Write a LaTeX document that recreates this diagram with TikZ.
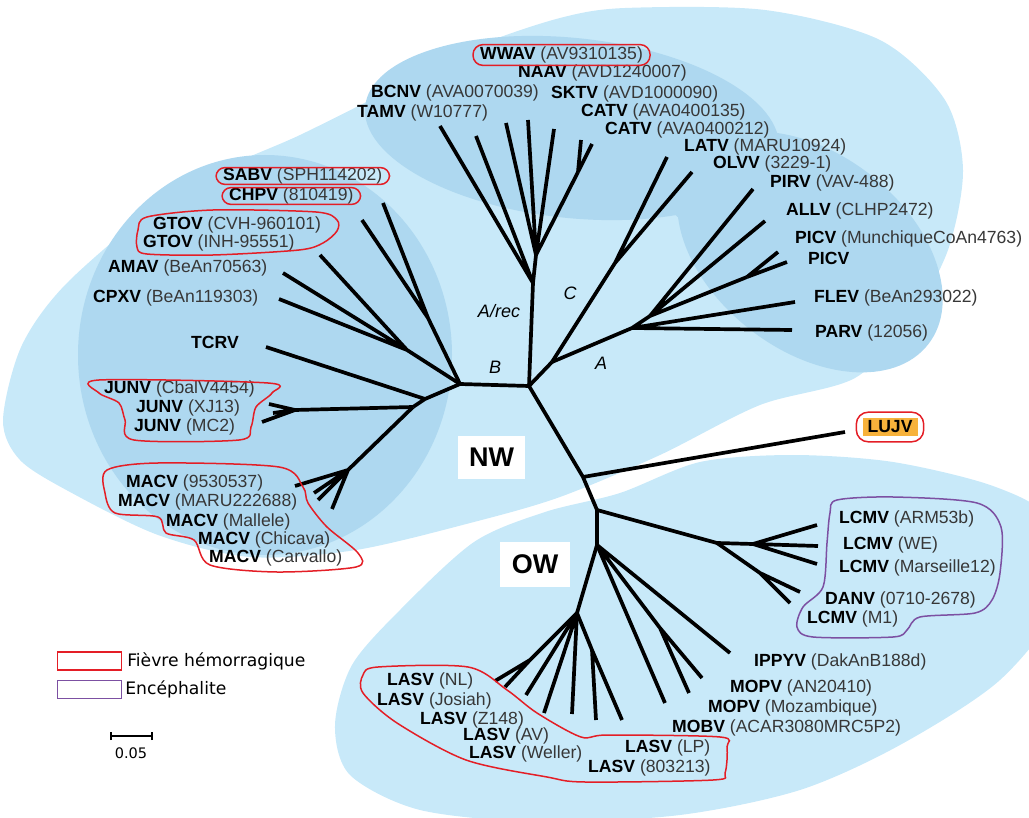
\documentclass[tikz,border=0pt]{standalone}
\usepackage{fontspec}
\setmainfont{Liberation Sans}
\newfontfamily\legendfont{DejaVu Sans}
\usetikzlibrary{positioning,fit}

\definecolor{lightblue}{RGB}{200,233,249}
\definecolor{darkblue}{RGB}{174,216,240}
\definecolor{idgray}{RGB}{55,55,55}
\definecolor{feverred}{RGB}{228,30,38}
\definecolor{encpurple}{RGB}{124,80,162}
\definecolor{lujvorange}{RGB}{247,178,59}

% name in bold, strain in grey
\newcommand{\virus}[2]{\textbf{#1} {\color{idgray}(#2)}}

\tikzset{
  branch/.style={line width=3.7pt, line join=round},
  virlabel/.style={anchor=west, inner sep=0pt, font=\fontsize{17.6}{19}\selectfont},
  fever/.style={draw=feverred, line width=1.5pt},
  enceph/.style={draw=encpurple, line width=1.5pt},
  clade/.style={font=\fontsize{18}{20}\selectfont\itshape},
  world/.style={fill=white, inner sep=0pt, font=\fontsize{27}{30}\selectfont\bfseries},
  legtext/.style={inner sep=0pt, font=\legendfont\fontsize{17.2}{19}\selectfont}
}

\begin{document}
\begin{tikzpicture}[x=1pt,y=-1pt]
    \useasboundingbox (0,0) rectangle (1029,818);

    % New World area
    \fill[lightblue] plot[smooth cycle] coordinates {(3,420) (22,345) (70,280) (180,190)
      (300,135) (400,85) (480,45) (560,18) (625,8) (765,10) (880,40) (945,100) (963,170)
      (948,250) (910,320) (855,378) (760,405) (660,455) (560,497) (474,522) (356,550)
      (250,557) (158,535) (70,492) (20,460)};

    % Old World area
    \fill[lightblue] plot[smooth cycle] coordinates {(620,493) (700,462) (793,455)
      (893,462) (993,486) (1050,520) (1060,600) (1000,680) (900,745) (800,790) (680,815)
      (540,822) (420,810) (350,775) (335,725) (352,665) (400,610) (474,542) (545,512)};

    % Clades B, A/rec, C and A
    \fill[darkblue] (265,355) ellipse [x radius=187, y radius=200];
    \fill[darkblue, rotate around={-6:(572,128)}] (572,128) ellipse [x radius=208, y radius=90];
    \fill[darkblue, rotate around={-45:(708,170)}] (708,170) ellipse [x radius=106, y radius=55];
    \fill[darkblue, rotate around={-38:(810,252)}] (810,252) ellipse [x radius=150, y radius=98];

    % Inner nodes of the tree
    \coordinate (cen) at (529,386);
    \coordinate (bnode) at (460,384);
    \coordinate (recstem) at (533,283);
    \coordinate (rec2) at (536,255);
    \coordinate (rec3) at (578,172);
    \coordinate (acnode) at (552,362);
    \coordinate (cnode) at (615,263);
    \coordinate (anode) at (632,328);
    \coordinate (anode2) at (650,316);
    \coordinate (picnode) at (747,277);
    \coordinate (lujnode) at (583,477);
    \coordinate (ownode) at (597,510);
    \coordinate (ownode2) at (597,545);
    \coordinate (lcmnode) at (717,543);
    \coordinate (lcmnode2) at (753,544);
    \coordinate (dannode) at (760,573);
    \coordinate (mopnode) at (660,628);
    \coordinate (lasnode) at (577,613);
    \coordinate (lasnode1) at (530,660);
    \coordinate (lasnode2) at (592,650);
    \coordinate (bnode1) at (428,318);
    \coordinate (bnode2) at (407,350);
    \coordinate (tcrnode) at (425,399);
    \coordinate (jmnode) at (413,407);
    \coordinate (junnode) at (295,410);
    \coordinate (macnode) at (348,470);

    % Tips
    \coordinate (tamtip) at (440,126);
    \coordinate (rectipA) at (476,136);
    \coordinate (bcntip) at (506,123);
    \coordinate (rectipB) at (528,120);
    \coordinate (skttip) at (554,129);
    \coordinate (cattipA) at (581,140);
    \coordinate (cattipB) at (592,144);
    \coordinate (lattip) at (667,157);
    \coordinate (olvtip) at (692,172);
    \coordinate (pirtip) at (753,189);
    \coordinate (alltip) at (765,221);
    \coordinate (pictipA) at (778,252);
    \coordinate (pictipB) at (787,262);
    \coordinate (flevtip) at (795,302);
    \coordinate (partip) at (792,330);
    \coordinate (lujtip) at (845,432);
    \coordinate (lcmtipA) at (817,525);
    \coordinate (lcmtipB) at (818,546);
    \coordinate (lcmtipC) at (817,564);
    \coordinate (dantip) at (800,592);
    \coordinate (lcmtipD) at (790,603);
    \coordinate (ipptip) at (730,653);
    \coordinate (moptipA) at (702,678);
    \coordinate (moptipB) at (689,693);
    \coordinate (mobtip) at (665,703);
    \coordinate (lastipA) at (495,681);
    \coordinate (lastipB) at (505,687);
    \coordinate (lastipC) at (526,695);
    \coordinate (lastipD) at (544,713);
    \coordinate (lastipE) at (572,714);
    \coordinate (lastipF) at (596,720);
    \coordinate (lastipG) at (622,720);
    \coordinate (sabtip) at (383,203);
    \coordinate (chptip) at (362,220);
    \coordinate (gtotip) at (320,255);
    \coordinate (amatip) at (283,273);
    \coordinate (cpxtip) at (279,299);
    \coordinate (tcrtip) at (266,347);
    \coordinate (juntipA) at (269,404);
    \coordinate (juntipB) at (273,413);
    \coordinate (juntipC) at (262,422);
    \coordinate (mactipA) at (295,486);
    \coordinate (mactipB) at (314,493);
    \coordinate (mactipC) at (318,500);
    \coordinate (mactipD) at (332,509);

    % Backbone
    \draw[branch] (bnode) -- (cen) -- (recstem);
    \draw[branch] (cen) -- (acnode);
    \draw[branch] (cen) -- (lujnode) -- (ownode) -- (ownode2) -- (lasnode);
    \draw[branch] (lujnode) -- (lujtip);

    % A/rec
    \draw[branch] (recstem) -- (tamtip) (recstem) -- (rectipA) (recstem) -- (rec2);
    \draw[branch] (rec2) -- (bcntip) (rec2) -- (rectipB) (rec2) -- (skttip) (rec2) -- (rec3);
    \draw[branch] (rec3) -- (cattipA) (rec3) -- (cattipB);

    % C
    \draw[branch] (acnode) -- (cnode) -- (lattip) (cnode) -- (olvtip);

    % A
    \draw[branch] (acnode) -- (anode) -- (partip) (anode) -- (flevtip) (anode) -- (anode2);
    \draw[branch] (anode2) -- (pirtip) (anode2) -- (alltip) (anode2) -- (picnode);
    \draw[branch] (picnode) -- (pictipA) (picnode) -- (pictipB);

    % B
    \draw[branch] (bnode) -- (bnode1) -- (sabtip) (bnode1) -- (chptip);
    \draw[branch] (bnode) -- (bnode2) -- (gtotip) (bnode2) -- (amatip) (bnode2) -- (cpxtip);
    \draw[branch] (bnode) -- (tcrnode) -- (jmnode) (tcrnode) -- (tcrtip);
    \draw[branch] (jmnode) -- (junnode) -- (juntipA) (junnode) -- (juntipB) (junnode) -- (juntipC);
    \draw[branch] (jmnode) -- (macnode) -- (mactipA) (macnode) -- (mactipB)
      (macnode) -- (mactipC) (macnode) -- (mactipD);

    % Old World
    \draw[branch] (ownode) -- (lcmnode) -- (lcmnode2) -- (lcmtipA) (lcmnode2) -- (lcmtipB)
      (lcmnode2) -- (lcmtipC);
    \draw[branch] (lcmnode) -- (dannode) -- (dantip) (dannode) -- (lcmtipD);
    \draw[branch] (ownode2) -- (ipptip) (ownode2) -- (mopnode) -- (moptipA) (mopnode) -- (moptipB)
      (ownode2) -- (mobtip);
    \draw[branch] (lasnode) -- (lasnode1) -- (lastipA) (lasnode1) -- (lastipB);
    \draw[branch] (lasnode) -- (lastipC) (lasnode) -- (lastipD) (lasnode) -- (lastipE);
    \draw[branch] (lasnode) -- (lasnode2) -- (lastipF) (lasnode2) -- (lastipG);

    % Clade letters
    \node[clade] (recname) at (499,311) {A/rec};
    \node[clade] (cname) at (570,293) {C};
    \node[clade] (bname) at (495,367) {B};
    \node[clade] (aname) at (601,363) {A};

    % NW / OW boxes
    \node[world, minimum width=67pt, minimum height=43pt] (nw) at (491.5,457.5) {NW};
    \node[world, minimum width=70pt, minimum height=45pt] (ow) at (535,564.5) {OW};

    % Labels, top
    \node[virlabel] (wwav) at (480,55) {\virus{WWAV}{AV9310135}};
    \node[virlabel] (naav) at (518,73) {\virus{NAAV}{AVD1240007}};
    \node[virlabel] (bcnv) at (371,93) {\virus{BCNV}{AVA0070039}};
    \node[virlabel] (sktv) at (551,94) {\virus{SKTV}{AVD1000090}};
    \node[virlabel] (tamv) at (357,113) {\virus{TAMV}{W10777}};
    \node[virlabel] (catva) at (581,112) {\virus{CATV}{AVA0400135}};
    \node[virlabel] (catvb) at (605,130) {\virus{CATV}{AVA0400212}};
    \node[virlabel] (latv) at (684,147) {\virus{LATV}{MARU10924}};
    \node[virlabel] (olvv) at (713,164) {\virus{OLVV}{3229-1}};
    \node[virlabel] (pirv) at (770,183) {\virus{PIRV}{VAV-488}};
    \node[virlabel] (allv) at (786,211) {\virus{ALLV}{CLHP2472}};
    \node[virlabel] (picva) at (795,239) {\virus{PICV}{MunchiqueCoAn4763}};
    \node[virlabel] (picvb) at (808,258) {\textbf{PICV}};
    \node[virlabel] (flev) at (814,298) {\virus{FLEV}{BeAn293022}};
    \node[virlabel] (parv) at (815,333) {\virus{PARV}{12056}};

    % Labels, left
    \node[virlabel] (sabv) at (223,176) {\virus{SABV}{SPH114202}};
    \node[virlabel] (chpv) at (229,196) {\virus{CHPV}{810419}};
    \node[virlabel] (gtova) at (153,225) {\virus{GTOV}{CVH-960101}};
    \node[virlabel] (gtovb) at (143,243) {\virus{GTOV}{INH-95551}};
    \node[virlabel] (amav) at (108,268) {\virus{AMAV}{BeAn70563}};
    \node[virlabel] (cpxv) at (93,298) {\virus{CPXV}{BeAn119303}};
    \node[virlabel] (tcrv) at (191,342) {\textbf{TCRV}};
    \node[virlabel] (junva) at (104,389) {\virus{JUNV}{CbalV4454}};
    \node[virlabel] (junvb) at (136,408) {\virus{JUNV}{XJ13}};
    \node[virlabel] (junvc) at (134,427) {\virus{JUNV}{MC2}};
    \node[virlabel] (macva) at (126,483) {\virus{MACV}{9530537}};
    \node[virlabel] (macvb) at (118,502) {\virus{MACV}{MARU222688}};
    \node[virlabel] (macvc) at (166,522) {\virus{MACV}{Mallele}};
    \node[virlabel] (macvd) at (198,540) {\virus{MACV}{Chicava}};
    \node[virlabel] (macve) at (209,558) {\virus{MACV}{Carvallo}};

    % Labels, Old World
    \node[virlabel] (lcmva) at (839,519) {\virus{LCMV}{ARM53b}};
    \node[virlabel] (lcmvb) at (843,545) {\virus{LCMV}{WE}};
    \node[virlabel] (lcmvc) at (839,568) {\virus{LCMV}{Marseille12}};
    \node[virlabel] (danv) at (825,600) {\virus{DANV}{0710-2678}};
    \node[virlabel] (lcmvd) at (807,619) {\virus{LCMV}{M1}};
    \node[virlabel] (ippyv) at (754,662) {\virus{IPPYV}{DakAnB188d}};
    \node[virlabel] (mopva) at (730,688) {\virus{MOPV}{AN20410}};
    \node[virlabel] (mopvb) at (708,708) {\virus{MOPV}{Mozambique}};
    \node[virlabel] (mobv) at (672,728) {\virus{MOBV}{ACAR3080MRC5P2}};
    \node[virlabel] (lasva) at (387,681) {\virus{LASV}{NL}};
    \node[virlabel] (lasvb) at (377,701) {\virus{LASV}{Josiah}};
    \node[virlabel] (lasvc) at (420,720) {\virus{LASV}{Z148}};
    \node[virlabel] (lasvd) at (463,736) {\virus{LASV}{AV}};
    \node[virlabel] (lasve) at (469,754) {\virus{LASV}{Weller}};
    \node[virlabel] (lasvf) at (625,748) {\virus{LASV}{LP}};
    \node[virlabel] (lasvg) at (588,768) {\virus{LASV}{803213}};

    % LUJV
    \node[fill=lujvorange, inner xsep=5pt, inner ysep=2.5pt, font=\fontsize{17.6}{19}\selectfont\bfseries]
      (lujv) at (890,427) {LUJV};

    % Haemorrhagic fever outlines
    \node[fever, rounded corners=10pt, inner xsep=7pt, inner ysep=2pt, fit=(wwav)] (wwavring) {};
    \node[fever, rounded corners=9pt, inner xsep=7pt, inner ysep=0pt, fit=(sabv)] (sabvring) {};
    \node[fever, rounded corners=9pt, inner xsep=7pt, inner ysep=0pt, fit=(chpv)] (chpvring) {};
    \node[fever, rounded corners=12pt, inner xsep=6pt, inner ysep=6pt, fit=(lujv)] (lujvring) {};
    \draw[fever] plot[smooth cycle] coordinates {(213,210) (316,212) (337,220) (337,231)
      (323,243) (299,250) (213,255) (147,254) (137,247) (138,230) (147,217)};
    \draw[fever] plot[smooth cycle] coordinates {(99,380) (268,383) (272,393) (256,407)
      (251,427) (239,440) (134,440) (125,420) (119,403) (99,393)};
    \draw[fever] plot[smooth cycle] coordinates {(107,470) (158,463) (279,467) (303,487)
      (308,503) (327,527) (358,553) (356,567) (277,572) (210,565) (194,540) (166,533)
      (158,517) (115,513) (105,493)};
    \draw[fever] plot[smooth cycle] coordinates {(363,675) (378,667) (468,667) (507,690)
      (537,713) (581,737) (608,735) (720,737) (727,747) (725,773) (713,780) (585,782)
      (547,777) (466,760) (397,723) (363,693)};

    % Encephalitis outline
    \draw[enceph] plot[smooth cycle] coordinates {(837,500) (893,497) (977,503) (1001,527)
      (1000,573) (992,600) (975,613) (920,617) (907,630) (893,637) (813,637) (797,627)
      (803,607) (823,587) (827,543) (830,513)};

    % Legend
    \node[draw=feverred, line width=1.2pt, minimum width=64pt, minimum height=18pt, inner sep=0pt]
      (legfever) at (89.5,661) {};
    \node[legtext, anchor=west, right=5pt of legfever] (legfevertext) {Fièvre hémorragique};
    \node[draw=encpurple, line width=1.2pt, minimum width=64pt, minimum height=18pt, inner sep=0pt]
      (legenc) at (89.5,689.5) {};
    \node[legtext, anchor=west, right=3pt of legenc] (legenctext) {Encéphalite};

    % Scale bar
    \coordinate (sbleft) at (111,736);
    \coordinate (sbright) at (152,736);
    \draw[line width=1.6pt] (sbleft) -- (sbright);
    \draw[line width=1.4pt] ([yshift=-4pt]sbleft) -- ([yshift=4pt]sbleft);
    \draw[line width=1.4pt] ([yshift=-4pt]sbright) -- ([yshift=4pt]sbright);
    \node[legtext, font=\legendfont\fontsize{14.5}{16}\selectfont] (sbtext) at (131,753) {0.05};
\end{tikzpicture}
\end{document}
